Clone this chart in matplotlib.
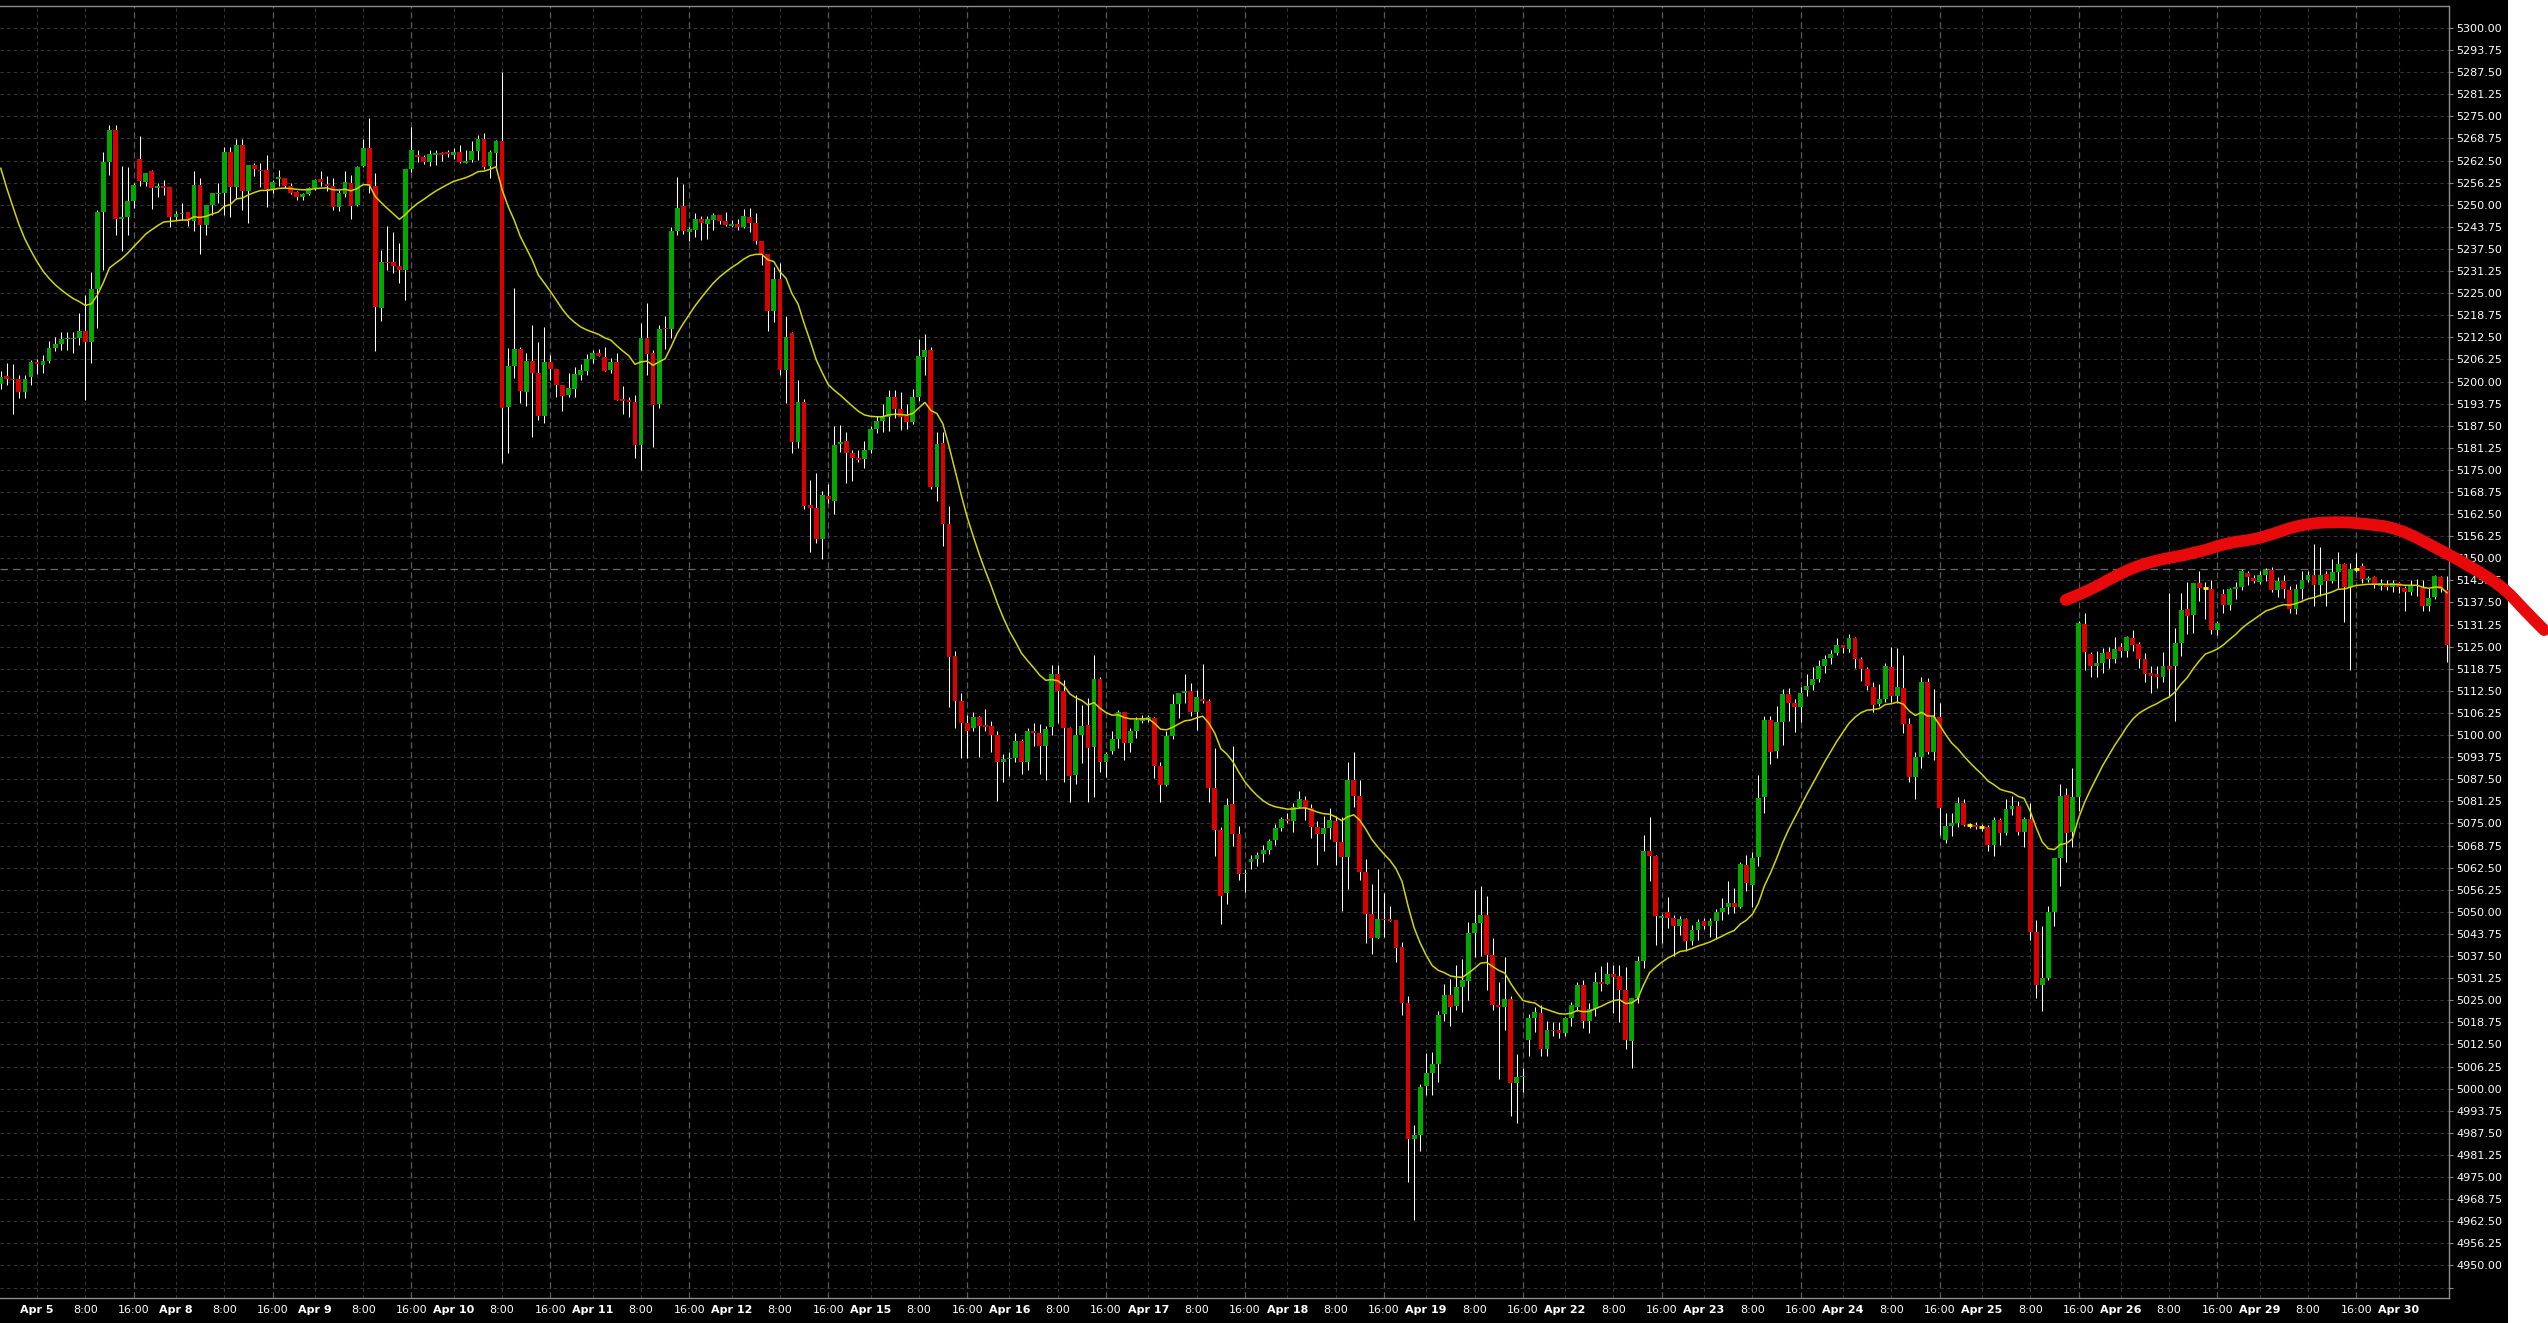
import matplotlib
matplotlib.use('Agg')
import matplotlib.pyplot as plt
import matplotlib.transforms as mtransforms
from matplotlib.patches import Rectangle, PathPatch
from matplotlib.path import Path
import numpy as np

plt.rcParams['font.family'] = ['DejaVu Sans']

# hourly bars, Apr 4 18:00 -> Apr 30 08:00 (23 bars per session)
opens = [
    5199.3, 5201.6, 5200.6, 5200.6, 5196.9, 5201.2, 5205.4, 5204.7, 5205.8, 5209.5,  # 0
    5210.6, 5211.9, 5212.0, 5212.3, 5214.4, 5211.3, 5226.2, 5248.0, 5262.1, 5271.2,  # 10
    5245.9, 5246.6, 5251.1, 5262.9, 5256.5, 5259.4, 5254.6, 5255.3, 5254.9, 5246.6,  # 20
    5247.4, 5247.9, 5245.5, 5255.6, 5244.3, 5249.9, 5253.0, 5253.4, 5265.0, 5254.9,  # 30
    5266.9, 5254.0, 5261.3, 5259.8, 5259.8, 5254.4, 5257.4, 5257.6, 5255.3, 5253.5,  # 40
    5252.3, 5253.0, 5254.7, 5257.2, 5255.9, 5255.3, 5249.3, 5253.1, 5256.1, 5249.9,  # 50
    5261.0, 5266.0, 5255.3, 5220.7, 5233.9, 5233.7, 5232.8, 5231.4, 5260.1, 5264.1,  # 60
    5263.4, 5262.2, 5264.2, 5264.6, 5264.9, 5264.1, 5264.9, 5261.9, 5262.7, 5265.3,  # 70
    5268.6, 5261.0, 5264.7, 5267.9, 5192.7, 5204.4, 5209.2, 5197.1, 5205.8, 5202.3,  # 80
    5190.3, 5205.5, 5203.6, 5199.0, 5196.1, 5197.9, 5201.9, 5203.1, 5206.4, 5208.0,  # 90
    5207.0, 5203.3, 5205.6, 5195.1, 5194.8, 5194.3, 5182.1, 5212.2, 5208.0, 5193.7,  # 100
    5215.2, 5214.8, 5242.6, 5249.5, 5242.4, 5242.9, 5246.0, 5244.6, 5245.7, 5247.1,  # 110
    5245.4, 5244.1, 5244.5, 5243.6, 5246.4, 5244.8, 5239.6, 5236.1, 5219.8, 5229.0,  # 120
    5203.3, 5213.6, 5183.0, 5194.3, 5165.1, 5164.3, 5155.5, 5167.7, 5166.3, 5182.2,  # 130
    5183.2, 5179.8, 5178.4, 5178.2, 5180.7, 5186.5, 5188.8, 5190.0, 5195.7, 5192.3,  # 140
    5190.2, 5188.6, 5195.7, 5207.0, 5209.0, 5170.3, 5182.7, 5159.6, 5122.4, 5109.7,  # 150
    5103.4, 5102.0, 5105.1, 5102.8, 5102.5, 5100.1, 5092.3, 5093.1, 5093.6, 5098.2,  # 160
    5092.3, 5101.1, 5100.5, 5096.8, 5102.2, 5117.4, 5112.4, 5102.0, 5088.6, 5099.9,  # 170
    5102.8, 5096.7, 5115.8, 5092.3, 5095.5, 5098.8, 5106.6, 5097.8, 5101.1, 5104.0,  # 180
    5104.3, 5104.8, 5091.3, 5085.8, 5099.7, 5108.9, 5111.9, 5112.4, 5106.6, 5110.3,  # 190
    5109.7, 5084.9, 5073.1, 5055.2, 5080.4, 5072.0, 5060.7, 5064.1, 5065.0, 5066.3,  # 200
    5067.6, 5070.3, 5073.7, 5076.4, 5075.7, 5079.6, 5081.7, 5079.3, 5074.1, 5072.0,  # 210
    5073.6, 5075.7, 5069.9, 5065.5, 5087.4, 5082.9, 5061.2, 5049.5, 5042.7, 5048.1,  # 220
    5047.9, 5047.7, 5040.1, 5024.3, 4985.7, 4987.0, 5000.8, 5004.4, 5007.0, 5021.0,  # 230
    5026.5, 5023.3, 5028.7, 5030.4, 5044.1, 5046.8, 5049.2, 5037.9, 5023.6, 5023.2,  # 240
    5025.5, 5001.7, 5003.3, 5013.8, 5020.0, 5021.4, 5011.3, 5016.7, 5016.7, 5015.7,  # 250
    5020.0, 5023.2, 5029.2, 5019.0, 5022.5, 5030.3, 5029.7, 5032.4, 5031.9, 5027.9,  # 260
    5013.6, 5025.6, 5036.2, 5067.3, 5065.9, 5048.4, 5050.1, 5048.2, 5046.1, 5047.9,  # 270
    5041.9, 5044.9, 5047.5, 5046.0, 5047.3, 5050.1, 5051.5, 5052.5, 5051.5, 5063.3,  # 280
    5057.6, 5065.4, 5082.4, 5104.3, 5095.6, 5103.6, 5111.6, 5109.0, 5107.9, 5112.8,  # 290
    5114.2, 5115.9, 5119.6, 5121.7, 5123.2, 5125.5, 5124.3, 5127.4, 5121.6, 5118.6,  # 300
    5113.7, 5108.8, 5110.2, 5119.2, 5111.1, 5113.4, 5103.2, 5088.1, 5093.9, 5115.1,  # 310
    5095.3, 5105.2, 5070.4, 5074.2, 5075.1, 5080.7, 5074.6, 5074.6, 5073.9, 5074.1,  # 320
    5069.0, 5076.0, 5072.4, 5079.0, 5080.0, 5072.7, 5076.2, 5044.4, 5029.4, 5031.2,  # 330
    5050.1, 5065.2, 5083.1, 5072.7, 5082.6, 5131.5, 5123.0, 5119.4, 5120.3, 5123.6,  # 340
    5121.5, 5124.8, 5123.9, 5127.6, 5125.8, 5121.5, 5117.5, 5117.3, 5116.4, 5119.4,  # 350
    5119.4, 5126.0, 5135.6, 5134.0, 5142.9, 5141.5, 5141.2, 5129.6, 5139.8, 5136.8,  # 360
    5141.3, 5141.8, 5145.8, 5144.4, 5143.4, 5145.3, 5146.7, 5140.9, 5143.7, 5140.9,  # 370
    5135.6, 5141.3, 5143.9, 5145.3, 5142.5, 5145.6, 5143.7, 5146.0, 5148.4, 5141.8,  # 380
    5146.9, 5147.8, 5143.9, 5144.6, 5142.2, 5142.7, 5142.0, 5142.9, 5141.5, 5140.6,  # 390
    5142.2, 5141.5, 5136.5, 5139.0, 5144.7, 5141.1,  # 400
]
highs = [
    5203.0, 5205.2, 5204.9, 5201.9, 5201.9, 5206.1, 5206.3, 5207.5, 5211.4, 5212.5,
    5213.9, 5213.9, 5213.9, 5219.3, 5224.5, 5231.1, 5248.5, 5265.0, 5272.6, 5272.6,
    5261.0, 5260.8, 5256.1, 5269.3, 5259.1, 5259.7, 5256.1, 5257.0, 5254.9, 5248.1,
    5250.4, 5247.9, 5259.4, 5257.5, 5249.9, 5253.3, 5256.1, 5266.4, 5266.4, 5268.5,
    5268.5, 5261.3, 5261.7, 5261.7, 5264.1, 5257.0, 5259.8, 5257.6, 5256.1, 5254.0,
    5253.4, 5254.9, 5257.2, 5259.4, 5258.0, 5257.5, 5254.2, 5259.4, 5258.4, 5261.0,
    5268.5, 5274.5, 5258.9, 5237.2, 5244.0, 5242.4, 5239.1, 5260.1, 5272.0, 5265.6,
    5264.1, 5265.5, 5265.5, 5265.0, 5265.5, 5266.0, 5266.9, 5265.5, 5267.9, 5269.7,
    5270.4, 5265.5, 5268.3, 5287.5, 5209.4, 5226.4, 5209.9, 5208.0, 5216.0, 5211.3,
    5215.3, 5207.5, 5203.6, 5199.0, 5202.3, 5204.2, 5205.0, 5207.8, 5208.9, 5209.1,
    5209.9, 5206.6, 5208.2, 5198.8, 5195.7, 5196.2, 5216.5, 5222.3, 5208.9, 5216.0,
    5218.6, 5243.8, 5257.7, 5255.9, 5243.8, 5247.6, 5246.8, 5246.8, 5247.6, 5247.1,
    5248.0, 5245.7, 5245.9, 5248.7, 5249.0, 5247.6, 5239.6, 5236.1, 5232.5, 5233.5,
    5218.6, 5214.1, 5200.5, 5195.1, 5172.1, 5174.0, 5168.9, 5170.9, 5187.4, 5187.6,
    5185.6, 5180.5, 5180.7, 5183.2, 5187.4, 5190.2, 5193.6, 5197.7, 5197.5, 5197.1,
    5193.6, 5197.8, 5212.1, 5213.3, 5209.8, 5185.6, 5185.6, 5164.8, 5123.8, 5112.0,
    5105.7, 5106.6, 5105.4, 5107.4, 5103.9, 5101.1, 5094.7, 5095.3, 5100.5, 5099.0,
    5101.9, 5103.4, 5103.1, 5102.5, 5119.9, 5119.8, 5115.5, 5102.2, 5111.2, 5108.6,
    5110.5, 5122.6, 5116.3, 5095.3, 5101.1, 5107.1, 5106.6, 5102.0, 5105.1, 5105.7,
    5105.7, 5105.1, 5092.4, 5101.1, 5111.7, 5112.0, 5117.4, 5114.7, 5112.8, 5120.1,
    5110.3, 5096.4, 5073.9, 5082.2, 5096.8, 5074.2, 5062.2, 5066.1, 5066.9, 5069.0,
    5070.6, 5074.8, 5076.9, 5078.0, 5080.8, 5084.2, 5082.7, 5080.4, 5075.8, 5077.1,
    5079.3, 5077.0, 5076.9, 5092.3, 5095.3, 5087.4, 5065.0, 5058.0, 5062.2, 5055.3,
    5051.7, 5047.7, 5041.4, 5026.3, 4989.8, 5001.4, 5010.0, 5010.3, 5022.0, 5029.5,
    5031.1, 5035.1, 5036.8, 5047.0, 5056.3, 5057.4, 5054.6, 5042.5, 5030.1, 5037.3,
    5026.3, 5009.8, 5005.9, 5021.1, 5023.2, 5023.6, 5019.2, 5018.9, 5018.9, 5020.3,
    5024.6, 5030.3, 5030.8, 5024.1, 5033.0, 5034.6, 5035.8, 5035.1, 5034.9, 5034.4,
    5025.6, 5037.4, 5071.8, 5076.7, 5066.1, 5049.4, 5054.3, 5049.1, 5048.9, 5048.2,
    5046.3, 5047.9, 5048.2, 5048.2, 5050.8, 5053.9, 5058.6, 5056.7, 5064.2, 5066.1,
    5066.8, 5088.7, 5105.4, 5105.4, 5108.1, 5113.0, 5113.3, 5110.1, 5113.6, 5117.2,
    5119.2, 5121.1, 5122.7, 5124.1, 5127.4, 5125.5, 5128.6, 5127.7, 5122.0, 5119.2,
    5114.9, 5114.5, 5120.3, 5124.9, 5124.6, 5122.7, 5104.8, 5095.3, 5116.4, 5116.1,
    5113.0, 5109.0, 5077.9, 5077.9, 5082.4, 5081.9, 5075.1, 5075.3, 5074.9, 5074.6,
    5076.8, 5076.5, 5081.9, 5082.8, 5081.5, 5076.9, 5080.7, 5047.6, 5046.0, 5051.7,
    5065.2, 5086.2, 5085.0, 5090.6, 5132.4, 5134.5, 5123.6, 5123.9, 5124.6, 5124.9,
    5127.7, 5126.0, 5128.1, 5129.8, 5126.2, 5123.3, 5119.6, 5119.6, 5123.6, 5140.1,
    5130.2, 5140.1, 5143.4, 5143.1, 5146.5, 5143.4, 5143.9, 5132.4, 5141.3, 5141.5,
    5143.4, 5146.9, 5146.3, 5145.3, 5146.5, 5147.2, 5147.5, 5144.6, 5145.3, 5142.2,
    5142.8, 5146.5, 5146.5, 5154.1, 5153.3, 5146.3, 5149.7, 5151.9, 5148.6, 5148.8,
    5151.6, 5148.6, 5145.0, 5145.0, 5144.1, 5143.9, 5143.9, 5143.4, 5142.2, 5143.9,
    5144.1, 5143.9, 5141.5, 5145.3, 5145.0, 5145.0,
]
lows = [
    5198.0, 5199.0, 5190.7, 5195.3, 5195.3, 5199.0, 5202.1, 5202.5, 5205.2, 5208.5,
    5208.9, 5208.9, 5208.0, 5210.4, 5194.8, 5205.2, 5215.1, 5231.4, 5258.4, 5241.5,
    5237.0, 5241.5, 5249.0, 5255.3, 5255.3, 5248.9, 5252.3, 5252.8, 5243.6, 5245.7,
    5245.7, 5244.0, 5242.7, 5236.1, 5241.5, 5247.1, 5250.4, 5247.1, 5246.5, 5251.5,
    5248.5, 5244.8, 5258.0, 5255.0, 5249.3, 5253.2, 5255.3, 5254.6, 5253.0, 5251.4,
    5251.4, 5252.8, 5254.2, 5255.3, 5254.0, 5248.5, 5248.1, 5252.3, 5245.9, 5249.5,
    5260.8, 5253.4, 5208.5, 5217.0, 5231.4, 5230.6, 5227.8, 5223.0, 5259.2, 5262.0,
    5261.5, 5261.0, 5261.3, 5262.5, 5263.5, 5262.9, 5261.7, 5261.7, 5262.2, 5262.7,
    5260.0, 5257.5, 5260.8, 5176.9, 5179.7, 5200.9, 5193.9, 5193.1, 5184.4, 5189.1,
    5188.4, 5200.5, 5195.7, 5191.8, 5195.6, 5195.7, 5200.5, 5201.9, 5205.2, 5207.2,
    5203.1, 5202.3, 5194.8, 5190.8, 5189.9, 5178.3, 5175.0, 5201.9, 5181.6, 5192.5,
    5209.1, 5212.2, 5241.4, 5241.7, 5239.6, 5241.0, 5240.0, 5240.3, 5242.9, 5244.6,
    5244.1, 5243.6, 5242.9, 5243.3, 5242.4, 5238.9, 5233.0, 5214.4, 5216.9, 5201.9,
    5193.9, 5179.7, 5181.1, 5164.0, 5151.9, 5154.2, 5149.8, 5165.7, 5162.5, 5180.1,
    5171.2, 5172.0, 5177.2, 5175.5, 5179.8, 5185.3, 5185.6, 5185.9, 5189.7, 5186.3,
    5186.7, 5187.9, 5194.6, 5201.7, 5169.7, 5166.3, 5153.6, 5108.0, 5102.0, 5093.6,
    5093.6, 5101.1, 5093.9, 5101.1, 5095.3, 5081.4, 5086.6, 5088.4, 5092.4, 5088.9,
    5090.1, 5097.0, 5088.9, 5087.4, 5100.1, 5103.4, 5086.6, 5081.0, 5086.1, 5092.1,
    5081.0, 5082.6, 5089.5, 5088.1, 5094.7, 5096.4, 5093.0, 5095.3, 5099.3, 5103.4,
    5103.6, 5087.8, 5081.0, 5085.5, 5099.0, 5104.8, 5109.1, 5105.4, 5101.3, 5109.1,
    5081.0, 5065.8, 5046.6, 5052.2, 5068.7, 5059.0, 5055.5, 5062.0, 5062.9, 5064.2,
    5066.5, 5069.0, 5073.0, 5075.0, 5072.6, 5079.3, 5076.0, 5070.9, 5063.3, 5067.2,
    5070.6, 5063.3, 5050.3, 5056.6, 5079.8, 5059.1, 5041.2, 5038.2, 5042.7, 5043.0,
    5047.5, 5035.7, 5020.9, 4973.5, 4963.0, 4982.4, 4998.3, 4998.3, 5001.9, 5019.2,
    5017.8, 5022.2, 5021.7, 5025.0, 5037.3, 5037.6, 5027.9, 5022.2, 5002.7, 5016.7,
    4992.2, 4990.3, 4999.2, 5009.2, 5016.0, 5009.2, 5009.2, 5014.9, 5014.4, 5014.9,
    5017.8, 5022.0, 5017.1, 5015.7, 5020.5, 5027.6, 5029.7, 5021.4, 5018.9, 5011.3,
    5005.8, 5024.2, 5034.0, 5058.6, 5040.7, 5041.1, 5045.4, 5037.4, 5043.5, 5038.8,
    5040.7, 5042.1, 5045.1, 5043.0, 5042.3, 5047.7, 5049.4, 5049.6, 5051.0, 5055.8,
    5051.3, 5063.0, 5078.1, 5091.9, 5093.5, 5097.2, 5104.1, 5101.0, 5103.6, 5111.1,
    5112.8, 5114.9, 5117.7, 5120.1, 5122.7, 5123.3, 5123.6, 5118.9, 5115.4, 5112.8,
    5106.4, 5108.1, 5109.5, 5109.5, 5109.1, 5100.5, 5086.6, 5081.9, 5090.6, 5094.7,
    5093.0, 5071.8, 5069.4, 5071.5, 5074.1, 5074.3, 5073.6, 5073.4, 5073.0, 5067.1,
    5065.8, 5069.0, 5071.8, 5077.4, 5071.8, 5068.3, 5042.1, 5025.6, 5022.1, 5030.6,
    5046.0, 5057.2, 5064.2, 5068.3, 5078.4, 5118.4, 5116.4, 5116.5, 5117.7, 5118.9,
    5120.3, 5122.2, 5122.0, 5123.9, 5118.9, 5114.9, 5112.0, 5113.3, 5115.1, 5110.9,
    5104.1, 5122.4, 5128.6, 5128.8, 5137.8, 5132.8, 5128.6, 5128.3, 5134.6, 5135.4,
    5138.4, 5141.1, 5142.5, 5143.0, 5142.8, 5143.7, 5140.6, 5139.0, 5138.7, 5134.5,
    5134.3, 5138.4, 5143.4, 5136.5, 5139.2, 5136.4, 5142.9, 5141.5, 5132.1, 5118.4,
    5146.2, 5143.0, 5143.4, 5141.5, 5141.1, 5141.1, 5140.6, 5140.3, 5135.2, 5139.7,
    5139.4, 5135.2, 5135.2, 5138.4, 5140.6, 5120.8,
]
closes = [
    5201.4, 5200.8, 5200.3, 5196.9, 5200.6, 5205.4, 5205.0, 5205.8, 5209.5, 5210.6,
    5212.0, 5212.3, 5212.3, 5214.4, 5211.3, 5226.2, 5248.0, 5262.1, 5271.2, 5245.9,
    5246.6, 5251.1, 5255.6, 5256.7, 5259.1, 5254.6, 5255.3, 5254.8, 5246.6, 5247.4,
    5247.6, 5245.5, 5255.6, 5244.3, 5249.9, 5253.3, 5253.3, 5265.0, 5254.9, 5266.9,
    5254.0, 5261.3, 5260.0, 5259.4, 5254.4, 5256.4, 5257.8, 5255.3, 5253.4, 5252.3,
    5253.0, 5254.7, 5257.0, 5256.3, 5255.3, 5249.3, 5253.4, 5256.5, 5249.7, 5260.8,
    5266.0, 5255.3, 5221.0, 5233.9, 5233.4, 5232.8, 5231.4, 5260.1, 5265.5, 5263.4,
    5262.2, 5264.4, 5264.6, 5264.2, 5264.4, 5264.9, 5262.2, 5262.5, 5265.3, 5268.6,
    5260.8, 5265.0, 5268.0, 5192.4, 5204.4, 5209.2, 5197.4, 5205.8, 5202.3, 5190.3,
    5205.5, 5203.6, 5198.9, 5196.0, 5198.1, 5202.1, 5203.3, 5206.4, 5208.0, 5207.2,
    5203.1, 5205.6, 5194.8, 5194.6, 5194.3, 5182.1, 5212.2, 5207.7, 5193.4, 5214.8,
    5214.8, 5242.6, 5249.2, 5242.6, 5243.2, 5246.0, 5244.8, 5246.0, 5247.1, 5245.4,
    5244.3, 5244.5, 5243.6, 5246.8, 5244.8, 5239.6, 5236.1, 5219.8, 5229.0, 5203.3,
    5212.5, 5183.0, 5194.3, 5164.8, 5164.3, 5155.5, 5167.8, 5166.9, 5182.1, 5183.0,
    5179.8, 5178.4, 5177.8, 5180.7, 5186.5, 5188.8, 5190.0, 5195.7, 5192.3, 5190.0,
    5188.6, 5195.7, 5207.3, 5209.0, 5170.3, 5182.4, 5159.6, 5122.1, 5109.7, 5103.4,
    5101.1, 5105.1, 5102.5, 5102.2, 5100.1, 5092.3, 5093.2, 5093.6, 5098.2, 5092.4,
    5101.1, 5100.5, 5096.8, 5101.6, 5117.4, 5112.4, 5102.0, 5088.4, 5099.9, 5102.5,
    5096.4, 5115.8, 5092.3, 5094.7, 5098.8, 5106.6, 5097.8, 5101.1, 5104.3, 5104.5,
    5105.1, 5091.3, 5085.8, 5099.7, 5108.9, 5112.0, 5112.4, 5106.6, 5110.8, 5109.7,
    5085.1, 5073.1, 5054.6, 5080.2, 5072.0, 5060.7, 5061.1, 5065.0, 5066.1, 5067.6,
    5070.1, 5073.6, 5076.4, 5075.7, 5079.6, 5082.0, 5079.3, 5074.1, 5071.9, 5073.6,
    5076.1, 5069.9, 5065.5, 5087.2, 5082.9, 5061.2, 5049.5, 5042.7, 5048.1, 5047.7,
    5047.5, 5039.8, 5024.3, 4985.7, 4987.0, 5000.6, 5004.4, 5007.0, 5020.9, 5026.5,
    5023.2, 5028.7, 5030.6, 5044.1, 5046.8, 5049.2, 5037.9, 5023.6, 5023.0, 5025.5,
    5001.7, 5003.3, 5003.5, 5020.0, 5021.7, 5011.3, 5016.5, 5016.2, 5015.7, 5020.0,
    5023.6, 5029.2, 5019.0, 5022.5, 5030.1, 5029.7, 5032.4, 5031.7, 5027.9, 5013.8,
    5025.6, 5036.2, 5067.3, 5065.9, 5048.7, 5048.9, 5048.4, 5046.1, 5047.9, 5041.9,
    5044.9, 5047.2, 5046.0, 5047.3, 5050.1, 5051.0, 5052.5, 5051.5, 5063.6, 5058.1,
    5065.2, 5082.1, 5104.3, 5095.3, 5103.6, 5111.6, 5109.2, 5108.0, 5111.8, 5113.9,
    5115.9, 5119.6, 5121.6, 5123.0, 5125.5, 5124.6, 5127.4, 5121.6, 5118.6, 5113.9,
    5108.6, 5110.2, 5119.4, 5111.1, 5113.7, 5103.2, 5088.1, 5093.8, 5115.1, 5095.3,
    5105.2, 5079.3, 5074.2, 5075.1, 5080.7, 5074.6, 5074.6, 5074.1, 5073.9, 5069.0,
    5076.0, 5072.4, 5079.0, 5080.0, 5072.7, 5076.2, 5044.4, 5029.4, 5031.2, 5050.1,
    5065.2, 5082.8, 5072.4, 5082.6, 5131.6, 5123.6, 5119.4, 5120.5, 5123.3, 5121.5,
    5124.4, 5123.9, 5127.7, 5125.5, 5121.5, 5117.3, 5116.7, 5116.4, 5119.6, 5118.6,
    5126.0, 5135.4, 5133.7, 5142.9, 5141.7, 5141.5, 5129.8, 5131.6, 5136.8, 5141.3,
    5141.8, 5146.3, 5144.6, 5143.7, 5145.3, 5146.7, 5140.9, 5143.7, 5141.3, 5135.6,
    5141.3, 5143.9, 5145.3, 5142.5, 5145.3, 5143.7, 5146.0, 5148.4, 5141.8, 5146.9,
    5146.9, 5144.1, 5144.4, 5142.5, 5142.9, 5142.0, 5142.9, 5141.8, 5140.6, 5142.2,
    5142.5, 5136.5, 5138.7, 5145.0, 5141.3, 5125.5,
]

day_labels = ['Apr 5', 'Apr 8', 'Apr 9', 'Apr 10', 'Apr 11', 'Apr 12', 'Apr 15',
              'Apr 16', 'Apr 17', 'Apr 18', 'Apr 19', 'Apr 22', 'Apr 23',
              'Apr 24', 'Apr 25', 'Apr 26', 'Apr 29', 'Apr 30']
first_day_bar = 6      # Apr 5 0:00
bars_per_day = 23
ema_period = 20
ema_start = 5260.3     # value of the average at the first bar
marker_price = 5146.9  # dashed horizontal line

# hand drawn red curve, in (bar, price)
sketch_bars = [341.9, 346.6, 349.7, 355.3, 363.6, 368.6, 372.7, 375.7, 380.8,
               386.6, 391.4, 396.9, 403.8, 408.5, 414.3, 417.8, 421.1]
sketch_prices = [5138.2, 5141.6, 5144.7, 5149.0, 5151.5, 5154.4, 5155.2, 5156.6,
                 5159.6, 5160.4, 5159.8, 5158.6, 5152.4, 5148.1, 5141.9, 5135.4, 5129.7]

W, H, DPI = 2548, 1323, 100
fig = plt.figure(figsize=(W / DPI, H / DPI), dpi=DPI, facecolor='white')
fig.patches.append(Rectangle((0, 0), 2508 / W, 1, transform=fig.transFigure,
                             facecolor='black', edgecolor='none', zorder=-10))
ax = fig.add_axes([0, 25 / H, 2449 / W, 1292 / H])
ax.set_facecolor('black')

o = np.array(opens)
h = np.array(highs)
l = np.array(lows)
c = np.array(closes)
x = np.arange(len(c))

# grid
yt = np.arange(4943.75, 5300.01, 6.25)
for y in yt:
    ax.axhline(y, color='#363636', lw=0.8, ls=(0, (3, 3)), zorder=0)

ticks = []
for k, lab in enumerate(day_labels):
    b = first_day_bar + k * bars_per_day
    ticks += [(b, lab, 'bold', False), (b + 8, '8:00', 'normal', False),
              (b + 16, '16:00', 'normal', True)]
ticks = [t for t in ticks if t[0] <= 404]

trans = mtransforms.blended_transform_factory(ax.transData, ax.transAxes)
for b, lab, weight, session in ticks:
    if session:
        ax.axvline(b, color='#5a5a5a', lw=0.9, ls=(0, (5, 3)), zorder=0)
    else:
        ax.axvline(b, color='#363636', lw=0.8, ls=(0, (3, 3)), zorder=0)
    ax.text(b, -0.0095, lab, transform=trans, ha='center', va='center',
            color='white', fontsize=8, fontweight=weight, clip_on=False)

ax.axhline(marker_price, color='#6a6a6a', lw=0.9, ls=(0, (6, 4)), zorder=1)

# candles
ax.vlines(x, l, h, color='white', lw=0.75, zorder=2)
up = c > o
down = c < o
flat = c == o
ax.bar(x[up], np.maximum(c - o, 0.35)[up], bottom=o[up], width=0.8,
       color='#00a800', linewidth=0, zorder=3)
ax.bar(x[down], np.maximum(o - c, 0.35)[down], bottom=c[down], width=0.8,
       color='#dc0000', linewidth=0, zorder=3)
ax.hlines(c[flat], x[flat] - 0.4, x[flat] + 0.4, color='#ffff00', lw=2, zorder=3)

# exponential moving average of closes
alpha = 2 / (ema_period + 1)
ema = [ema_start]
for v in closes[1:]:
    ema.append(ema[-1] + alpha * (v - ema[-1]))
ax.plot(x, ema, color='#d4d400', lw=1.1, zorder=4)

# red marker stroke, smoothed with quadratic segments through the midpoints
pts = np.column_stack([sketch_bars, sketch_prices])
mids = (pts[:-1] + pts[1:]) / 2
verts = [pts[0], mids[0]]
codes = [Path.MOVETO, Path.LINETO]
for i in range(1, len(pts) - 1):
    verts += [pts[i], mids[i]]
    codes += [Path.CURVE3, Path.CURVE3]
verts.append(pts[-1])
codes.append(Path.LINETO)
stroke = PathPatch(Path(verts, codes), facecolor='none', edgecolor='#e80a0a',
                   lw=8.5, capstyle='round', joinstyle='round', clip_on=False,
                   zorder=10)
ax.add_patch(stroke)

ax.set_xlim(-0.126, 405.34)
ax.set_ylim(4940.8, 5306.2)
ax.set_xticks([])
ax.yaxis.tick_right()
ax.set_yticks(yt)
ax.set_yticklabels([''] + ['%.2f' % v for v in yt[1:]])
ax.tick_params(axis='y', colors='#8c8c8c', labelcolor='white', labelsize=8,
               length=3, width=0.8, pad=2)
for side in ['top', 'right', 'bottom']:
    ax.spines[side].set_color('#8c8c8c')
    ax.spines[side].set_linewidth(1.0)
ax.spines['left'].set_visible(False)

fig.savefig('out.png', dpi=DPI, facecolor=fig.get_facecolor())
